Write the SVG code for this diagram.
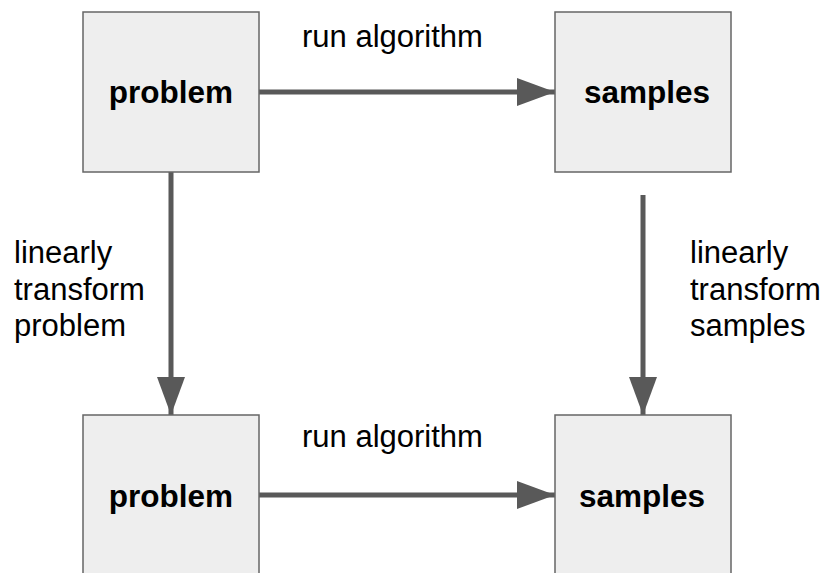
<svg xmlns="http://www.w3.org/2000/svg" width="825" height="573" viewBox="0 0 825 573">
<style>
.box{fill:#eeeeee;stroke:#666666;stroke-width:1.5}
.nt{font-family:"Liberation Sans",Arial,sans-serif;font-weight:bold;font-size:31.5px;fill:#000;text-anchor:middle}
.lb{font-family:"Liberation Sans",Arial,sans-serif;font-size:31px;fill:#000}
.ed{stroke:#595959;stroke-width:5;fill:none}
</style>
<defs>
<marker id="ah" markerUnits="userSpaceOnUse" markerWidth="40" markerHeight="30" refX="38" refY="14" orient="auto">
<path d="M0,0 L38,14 L0,28 Z" fill="#595959"/>
</marker>
</defs>
<rect width="825" height="573" fill="#ffffff"/>
<g id="connectors">
<line class="ed" x1="259" y1="92" x2="555" y2="92" marker-end="url(#ah)"/>
<line class="ed" x1="171" y1="172" x2="171" y2="415" marker-end="url(#ah)"/>
<line class="ed" x1="643" y1="195" x2="643" y2="415" marker-end="url(#ah)"/>
<line class="ed" x1="259" y1="495" x2="555" y2="495" marker-end="url(#ah)"/>
</g>
<g id="problem1"><rect class="box" x="83" y="12" width="176" height="160"/><text class="nt" x="171" y="103">problem</text></g>
<g id="samples1"><rect class="box" x="555" y="12" width="176" height="160"/><text class="nt" x="647" y="103">samples</text></g>
<g id="problem2"><rect class="box" x="83" y="415" width="176" height="170"/><text class="nt" x="171" y="507">problem</text></g>
<g id="samples2"><rect class="box" x="555" y="415" width="176" height="170"/><text class="nt" x="642" y="507">samples</text></g>
<g id="labels">
<text class="lb" x="302" y="47">run algorithm</text>
<text class="lb" x="302" y="447">run algorithm</text>
<text class="lb" x="14" y="263">linearly</text>
<text class="lb" x="14" y="300">transform</text>
<text class="lb" x="14" y="336">problem</text>
<text class="lb" x="690" y="263">linearly</text>
<text class="lb" x="690" y="300">transform</text>
<text class="lb" x="690" y="336">samples</text>
</g>
</svg>
